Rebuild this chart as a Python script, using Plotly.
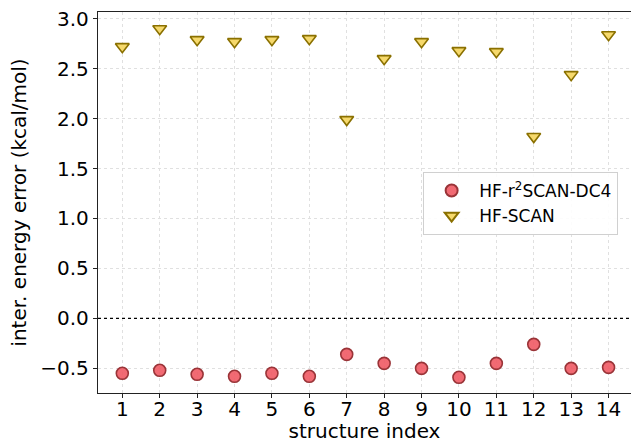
import plotly.graph_objects as go

structure_index = list(range(1, 15))
hf_r2scan_dc4 = [-0.55, -0.52, -0.56, -0.58, -0.55, -0.58, -0.36, -0.45, -0.50, -0.59, -0.45, -0.26, -0.50, -0.49]
hf_scan = [2.72, 2.90, 2.79, 2.77, 2.79, 2.80, 1.99, 2.60, 2.77, 2.68, 2.67, 1.82, 2.44, 2.84]
y_ticks = [-0.5, 0.0, 0.5, 1.0, 1.5, 2.0, 2.5, 3.0]

font = "DejaVu Sans"

fig = go.Figure()
fig.add_trace(go.Scatter(
    x=structure_index, y=hf_r2scan_dc4, mode="markers", name="HF-r<sup>2</sup>SCAN-DC4",
    marker=dict(symbol="circle", size=12, color="rgba(240,90,100,0.9)",
                line=dict(color="#9a3438", width=1.6)),
))
fig.add_trace(go.Scatter(
    x=structure_index, y=hf_scan, mode="markers", name="HF-SCAN",
    marker=dict(symbol="triangle-down", size=12, color="rgba(245,215,100,0.95)",
                line=dict(color="#8a7000", width=1.6)),
))

fig.add_shape(type="line", xref="paper", x0=0, x1=1, yref="y", y0=0, y1=0,
              line=dict(color="black", width=1.3, dash="dot"))

fig.update_layout(
    width=631, height=443,
    margin=dict(l=98, r=0, t=12, b=50),
    paper_bgcolor="white", plot_bgcolor="white",
    font=dict(family=font, size=20, color="black"),
    showlegend=True,
    legend=dict(x=0.61, y=0.58, xanchor="left", yanchor="top",
                bgcolor="rgba(255,255,255,0.9)", bordercolor="#d0d0d0", borderwidth=1,
                font=dict(size=17, family=font), itemsizing="constant",
                itemwidth=45, tracegroupgap=0),
)
fig.update_xaxes(
    range=[0.35, 14.6], tickmode="array", tickvals=structure_index,
    ticktext=[str(v) for v in structure_index],
    showline=True, linecolor="#222", linewidth=1.3, mirror=True,
    ticks="outside", ticklen=4, tickcolor="#222",
    showgrid=True, gridcolor="#e0e0e0", griddash="dot", gridwidth=1,
    zeroline=False, ticklabelstandoff=-6,
    title=dict(text="structure index", font=dict(size=20), standoff=6),
    tickfont=dict(size=20),
)
fig.update_yaxes(
    range=[-0.747, 3.067], tickmode="array", tickvals=y_ticks,
    ticktext=["\u22120.5", "0.0", "0.5", "1.0", "1.5", "2.0", "2.5", "3.0"],
    showline=True, linecolor="#222", linewidth=1.3, mirror=False,
    ticks="outside", ticklen=4, tickcolor="#222",
    showgrid=True, gridcolor="#e0e0e0", griddash="dot", gridwidth=1,
    zeroline=False,
    title=dict(text="inter. energy error (kcal/mol)", font=dict(size=20), standoff=8),
    tickfont=dict(size=20),
)

fig.write_html("out.html")
